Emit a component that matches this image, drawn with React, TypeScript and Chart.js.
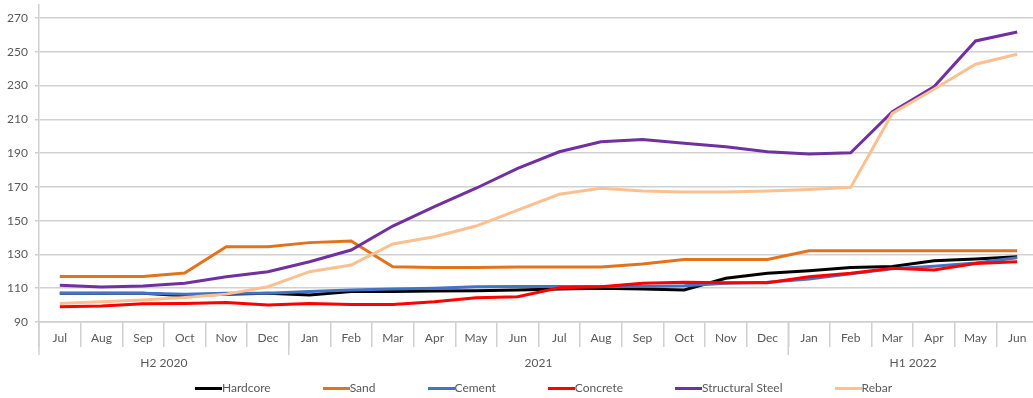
import React, { useEffect, useRef } from 'react';
import { Chart, registerables } from 'chart.js';

Chart.register(...registerables);

const months = ['Jul', 'Aug', 'Sep', 'Oct', 'Nov', 'Dec', 'Jan', 'Feb', 'Mar', 'Apr', 'May', 'Jun',
  'Jul', 'Aug', 'Sep', 'Oct', 'Nov', 'Dec', 'Jan', 'Feb', 'Mar', 'Apr', 'May', 'Jun'];
const periodLabels = ['H2 2020', '2021', 'H1 2022'];
const periodLengths = [6, 12, 6];
const yTicks = [90, 110, 130, 150, 170, 190, 210, 230, 250, 270];

const seriesNames = ['Hardcore', 'Sand', 'Cement', 'Concrete', 'Structural Steel', 'Rebar'];
const seriesColors = ['#000000', '#E0731C', '#4472C4', '#FF0000', '#7030A0', '#FAC090'];

const hardcore = [107, 107, 107, 105.5, 106.5, 107, 106, 108, 108, 108.3, 108.5, 109, 109.5, 110, 109.5, 109, 115.9, 118.8, 120.4, 122.2, 122.8, 126.3, 127.3, 128.7];
const sand = [117, 117, 117, 119, 134.5, 134.5, 137, 138, 122.7, 122.2, 122.2, 122.5, 122.5, 122.5, 124.3, 127, 127, 127, 132.2, 132.2, 132.2, 132.2, 132.2, 132.2];
const cement = [107, 107, 107, 106.5, 107, 107, 108, 109, 109.5, 110, 110.8, 111, 111, 111, 111, 111.5, 113, 113.5, 115.5, 118.5, 121.5, 123, 125, 128];
const concrete = [99, 99.5, 100.8, 101, 101.5, 100, 101, 100.3, 100.3, 102, 104.4, 105, 110.3, 110.9, 112.9, 113.5, 113.3, 113.3, 116.8, 118.8, 121.8, 120.8, 124.7, 125.7];
const structuralSteel = [111.7, 110.7, 111.3, 113, 116.8, 119.8, 125.7, 132.6, 146.8, 158.3, 169.2, 181, 190.8, 196.7, 198.1, 195.8, 193.8, 190.8, 189.5, 190.2, 214.5, 229.3, 256.4, 261.7];
const rebar = [101, 102, 103, 104.5, 106.5, 110.9, 119.8, 123.7, 136.2, 140.5, 146.8, 156.3, 165.6, 169.2, 167.5, 167, 167, 167.5, 168.5, 169.7, 213.5, 227.8, 242.6, 248.5];

const seriesValues = [hardcore, sand, cement, concrete, structuralSteel, rebar];

const yMin = 90;
const yMax = 277.7;

const FONT = 'Lato, "Open Sans", sans-serif';
const TEXT = '#595959';
const GRID = '#D0D0D0';

const periodPlugin = {
  id: 'periodAxis',
  afterDraw(chart: any) {
    const x = chart.scales.x;
    const ctx = chart.ctx;
    const half = (x.getPixelForValue(1) - x.getPixelForValue(0)) / 2;
    ctx.save();
    ctx.strokeStyle = GRID;
    ctx.lineWidth = 1.5;
    let start = 0;
    const bounds: number[] = [0];
    periodLengths.forEach((n) => { start += n; bounds.push(start); });
    bounds.forEach((b) => {
      const px = b === 0 ? x.getPixelForValue(0) - half : x.getPixelForValue(b - 1) + half;
      ctx.beginPath();
      ctx.moveTo(px, x.top);
      ctx.lineTo(px, x.top + 33);
      ctx.stroke();
    });
    ctx.fillStyle = TEXT;
    ctx.font = `12px ${FONT}`;
    ctx.textAlign = 'center';
    ctx.textBaseline = 'middle';
    let s = 0;
    periodLabels.forEach((label, i) => {
      const first = x.getPixelForValue(s);
      const last = x.getPixelForValue(s + periodLengths[i] - 1);
      ctx.fillText(label, (first + last) / 2, x.top + 41);
      s += periodLengths[i];
    });
    ctx.restore();
  },
};

export default function App() {
  const canvasRef = useRef<HTMLCanvasElement>(null);

  useEffect(() => {
    document.body.style.margin = '0';
    document.body.style.overflow = 'hidden';
    const canvas = canvasRef.current;
    if (!canvas) return;
    const datasets = seriesNames.map((name, i) => ({
      label: name,
      data: seriesValues[i],
      borderColor: seriesColors[i],
      backgroundColor: seriesColors[i],
      borderWidth: 3,
      pointRadius: 0,
      tension: 0,
      order: seriesNames.length - i,
    }));
    const chart = new Chart(canvas, {
      type: 'line',
      data: { labels: months, datasets },
      options: {
        responsive: false,
        animation: false,
        layout: { padding: { top: 5, right: 2, bottom: 22, left: 0 } },
        plugins: { legend: { display: false }, tooltip: { enabled: false } },
        scales: {
          x: {
            type: 'category',
            offset: true,
            grid: { offset: true, drawOnChartArea: false, drawTicks: true, tickLength: 25, color: GRID, lineWidth: 1.5 },
            border: { display: true, color: GRID, width: 1.5 },
            ticks: { color: TEXT, font: { family: FONT, size: 12 }, padding: -16, maxRotation: 0, autoSkip: false },
            afterFit: (s: any) => { s.height = 54; },
          },
          y: {
            min: yMin,
            max: yMax,
            ticks: { color: TEXT, font: { family: FONT, size: 12 }, padding: 7 },
            grid: { color: GRID, lineWidth: 1.5, tickLength: 4 },
            border: { display: true, color: GRID, width: 1.5 },
            afterBuildTicks: (s: any) => { s.ticks = yTicks.map((v) => ({ value: v })); },
            afterFit: (s: any) => { s.width = 39; s.paddingTop = 0; s.paddingBottom = 0; },
          },
        },
      },
      plugins: [periodPlugin],
    });
    return () => chart.destroy();
  }, []);

  return (
    <div style={{ position: 'relative', width: 1033, height: 398, overflow: 'hidden', background: '#fff' }}>
      <canvas ref={canvasRef} width={1040} height={398} style={{ display: 'block', width: 1040, height: 398 }} />
      <div style={{ position: 'absolute', left: 195, top: 380, display: 'flex', gap: 52, alignItems: 'center', fontFamily: FONT, fontSize: 12, color: TEXT, whiteSpace: 'nowrap', lineHeight: '16px' }}>
        {seriesNames.map((name, i) => (
          <div key={name} style={{ display: 'flex', alignItems: 'center' }}>
            <span style={{ display: 'inline-block', width: 27, height: 3, background: seriesColors[i] }} />
            <span>{name}</span>
          </div>
        ))}
      </div>
    </div>
  );
}
